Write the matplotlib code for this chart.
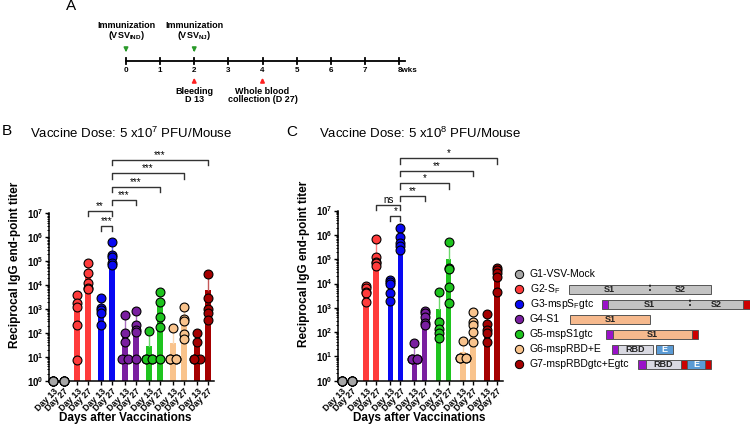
import numpy as np
import matplotlib
matplotlib.use('Agg')
import matplotlib.pyplot as plt
from matplotlib.patches import Rectangle
from matplotlib.ticker import FixedLocator, NullFormatter
from matplotlib.colors import to_rgb

plt.rcParams['font.family'] = ['Liberation Sans', 'DejaVu Sans']
plt.rcParams['mathtext.default'] = 'regular'

# ---- data ----
groupNames = ['G1-VSV-Mock', r'G2-S$_{F}$', r'G3-mspS$_{F}$gtc', 'G4-S1',
              'G5-mspS1gtc', 'G6-mspRBD+E', 'G7-mspRBDgtc+Egtc']
groupColors = ['#a6a6a6', '#ff3b3b', '#0808f2', '#7a1fa0', '#1ec41e', '#f9c38c', '#a50000']
dayLabels = ['Day 13', 'Day 27']

# panel B: 5x10^7 PFU/mouse (G1 d13, G1 d27, G2 d13, G2 d27, ...)
bBars = [1, 1, 1800, 25000, 800, 140000, 120, 155, 28, 2000, 38, 300, 40, 6500]
bErrTop = [1, 1, 3900, 87000, 2600, 600000, 520, 800, 110, 5000, 160, 1200, 95, 28000]
bPoints = [
    [1, 1, 1, 1, 1], [1, 1, 1, 1, 1],
    [3900, 1700, 1200, 210, 7.5], [87000, 33000, 12500, 7400, 7000],
    [2800, 1070, 910, 710, 210], [620000, 180000, 145000, 87000, 69000],
    [560, 100, 43, 7.8, 7.8], [850, 215, 130, 112, 7.8],
    [120, 7.8, 7.8, 7.8, 7.8], [5300, 2000, 450, 180, 7.8],
    [165, 7.8, 7.8, 7.8, 7.8], [1250, 370, 300, 90, 55],
    [95, 40, 7.8, 7.8, 7.8], [28000, 2800, 970, 700, 350],
]
bBrackets = [(3, 5, '**'), (4, 5, '***'), (5, 7, '***'), (5, 9, '***'), (5, 11, '***'), (5, 13, '***')]

# panel C: 5x10^8 PFU/mouse
cBars = [1, 1, 4500, 150000, 8000, 400000, 10, 300, 900, 100000, 15, 160, 160, 30000]
cErrTop = [1, 1, 8000, 650000, 14000, 1900000, 30, 700, 4300, 500000, 40, 600, 500, 40000]
cPoints = [
    [1, 1, 1, 1, 1], [1, 1, 1, 1, 1],
    [7900, 6300, 4600, 4000, 1800], [680000, 126000, 79000, 72000, 52000],
    [14000, 12000, 9500, 4000, 1950], [2000000, 850000, 450000, 360000, 250000],
    [35, 8, 8, 8, 8], [760, 590, 405, 245, 195],
    [4300, 270, 130, 90, 55], [500000, 42000, 40000, 7000, 1600],
    [44, 8.3, 8.3, 8.3, 8.3], [650, 270, 195, 105, 40],
    [550, 215, 122, 89, 40], [42000, 36000, 26000, 18000, 4600],
]
cBrackets = [(3, 5, 'ns'), (4, 5, '*'), (5, 7, '**'), (5, 9, '*'), (5, 11, '**'), (5, 13, '*')]

# timeline (weeks)
weeks = [0, 1, 2, 3, 4, 5, 6, 7, 8]
immunWeeks = [0, 2]
immunLabels = [r'(VSV$_{IND}$)', r'(VSV$_{NJ}$)']
bleedWeeks = [2, 4]
bleedLabels = [['Bleeding', 'D 13'], ['Whole blood', 'collection (D 27)']]

# constructs: (label, domain, length)
constructs = [
    [],
    [('S1', 'spike', 81), ('S2', 'spike', 61)],
    [('', 'msp', 6), ('S1', 'spike', 82), ('S2', 'spike', 53), ('', 'gtc', 7)],
    [('S1', 's1', 80)],
    [('', 'msp', 7), ('S1', 's1', 79), ('', 'gtc', 6)],
    [('', 'msp', 6), ('RBD', 'rbd', 35), ('', 'gap', 3), ('E', 'e', 17)],
    [('', 'msp', 8), ('RBD', 'rbd', 35), ('', 'gtc', 6), ('E', 'e', 18), ('', 'gtc', 6)],
]
constructStart = [0, 569, 602, 570, 606, 612, 638]
domainColors = {'spike': '#c3c3c3', 'msp': '#9a12c8', 'gtc': '#cc0000', 's1': '#f6b98d',
                'rbd': '#d9d9e2', 'e': '#5b9bd5'}


def tint(c, f):
    r = np.array(to_rgb(c))
    return tuple(r + (1 - r) * f)


def barPositions(spacing):
    pos = []
    for g in range(len(groupNames)):
        pos.append(g * spacing)
        pos.append(g * spacing + 1)
    return np.array(pos)


def plotPanel(ax, bars, errTop, points, brackets, spacing, levels):
    xs = barPositions(spacing)
    for i in range(len(bars)):
        col = groupColors[i // 2]
        if bars[i] > 1:
            ax.bar(xs[i], bars[i] - 1, bottom=1, width=0.55, color=col, zorder=1)
            ax.plot([xs[i], xs[i]], [bars[i], errTop[i]], color=tint(col, 0.35), lw=1, zorder=1)
            ax.plot([xs[i] - 0.15, xs[i] + 0.15], [errTop[i], errTop[i]], color=tint(col, 0.35), lw=1, zorder=1)
        # spread repeated values a little
        pts = points[i]
        offs = np.zeros(len(pts))
        for v in set(pts):
            idx = [k for k, p in enumerate(pts) if p == v]
            if v > 1 and len(idx) > 1:
                for n, k in enumerate(idx):
                    offs[k] = -0.28 if n % 2 == 0 else 0.28
        ax.plot(xs[i] + offs, pts, 'o', mfc=col, mec='black', mew=0.8, ms=6.4,
                clip_on=False, zorder=3)

    for (a, b, lab), lev in zip(brackets, levels):
        y = 10 ** lev
        yt = 10 ** (lev - 0.22)
        ax.plot([xs[a], xs[a], xs[b], xs[b]], [yt, y, y, yt], color='#333333', lw=1,
                clip_on=False)
        ax.text((xs[a] + xs[b]) / 2, 10 ** (lev + 0.2), lab, ha='center', va='center',
                fontsize=7, clip_on=False)

    ax.set_yscale('log')
    ax.set_xlim(xs[0] - 0.4, xs[-1] + 0.6)
    ax.spines['top'].set_visible(False)
    ax.spines['right'].set_visible(False)
    ax.spines['left'].set_bounds(1, 1e7)
    ax.spines['left'].set_linewidth(1.1)
    ax.spines['bottom'].set_linewidth(1.1)
    ax.yaxis.set_major_locator(FixedLocator([10 ** k for k in range(8)]))
    ax.set_yticklabels([r'10$^{%d}$' % k for k in range(8)], fontsize=7, fontweight='bold')
    minors = [m * 10 ** k for k in range(7) for m in range(2, 10)]
    ax.yaxis.set_minor_locator(FixedLocator(minors))
    ax.yaxis.set_minor_formatter(NullFormatter())
    ax.tick_params(axis='y', which='major', length=3, width=1, pad=1)
    ax.tick_params(axis='y', which='minor', length=1.5, width=0.7)
    ax.set_xticks(xs)
    ax.set_xticklabels(dayLabels * len(groupNames), rotation=45, ha='right',
                       rotation_mode='anchor', fontsize=6.3, fontweight='bold')
    ax.tick_params(axis='x', length=3, width=1, pad=1)
    ax.set_ylabel('Reciprocal IgG end-point titer', fontsize=8.5, fontweight='bold', labelpad=4)
    ax.set_facecolor('none')


fig = plt.figure(figsize=(7.5, 4.26), dpi=100)

# panel B
axB = fig.add_axes([49 / 750, (426 - 380.7) / 426, 165 / 750, 9.7 * 23.9 / 426])
axB.set_ylim(1, 10 ** 9.7)
plotPanel(axB, bBars, bErrTop, bPoints, bBrackets, 2.3, [7.11, 6.47, 7.56, 8.12, 8.68, 9.23])

# panel C
axC = fig.add_axes([338 / 750, (426 - 380.7) / 426, 165 / 750, 9.6 * 24.3 / 426])
axC.set_ylim(1, 10 ** 9.6)
plotPanel(axC, cBars, cErrTop, cPoints, cBrackets, 2.4, [7.23, 6.78, 7.6, 8.12, 8.64, 9.15])

# panel A timeline
axA = fig.add_axes([126 / 750, (426 - 106) / 426, 273 / 750, 96 / 426])
axA.set_xlim(0, 8)
axA.set_ylim(106, 10)
axA.axis('off')
axA.plot([0, 8.18], [61, 61], color='black', lw=1.3, clip_on=False)
for w in weeks:
    axA.plot([w, w], [58, 64], color='black', lw=1.3, clip_on=False)
    axA.text(w if w < 8 else w - 0.05, 70, str(w) if w < 8 else '8wks', ha='center' if w < 8 else 'left',
             va='center', fontsize=5.8, fontweight='bold')
for w, lab in zip(immunWeeks, immunLabels):
    axA.annotate('', xy=(w, 55), xytext=(w, 46),
                 arrowprops=dict(arrowstyle='-|>', color='#2a9a2a', lw=1.2, mutation_scale=6))
    axA.text(w, 25, 'Immunization', ha='center', va='center', fontsize=6.5, fontweight='bold')
    axA.text(w, 35, lab, ha='center', va='center', fontsize=6.5, fontweight='bold')
for w, lab in zip(bleedWeeks, bleedLabels):
    axA.annotate('', xy=(w, 75), xytext=(w, 85),
                 arrowprops=dict(arrowstyle='-|>', color='#ff2020', lw=1.2, mutation_scale=6))
    axA.text(w, 91, lab[0], ha='center', va='center', fontsize=6.5, fontweight='bold')
    axA.text(w, 100, lab[1], ha='center', va='center', fontsize=6.5, fontweight='bold')

# overlay for labels and legend
ov = fig.add_axes([0, 0, 1, 1])
ov.set_xlim(0, 750)
ov.set_ylim(426, 0)
ov.axis('off')
ov.text(66, 6, 'A', fontsize=11, va='center')
ov.text(2, 131, 'B', fontsize=11, va='center')
ov.text(286, 132, 'C', fontsize=11, va='center')
ov.text(30, 133, r'Vaccine Dose: 5 x10$^{7}$ PFU/Mouse', fontsize=9.5, va='center')
ov.text(319, 133, r'Vaccine Dose: 5 x10$^{8}$ PFU/Mouse', fontsize=9.5, va='center')
ov.text(125, 418, 'Days after Vaccinations', fontsize=8.5, fontweight='bold', ha='center', va='center')
ov.text(419, 418, 'Days after Vaccinations', fontsize=8.5, fontweight='bold', ha='center', va='center')

rowY = 274
for g in range(len(groupNames)):
    y = rowY + g * 15
    ov.plot(519, y, 'o', mfc=groupColors[g], mec='black', mew=0.7, ms=6)
    ov.text(530, y, groupNames[g], fontsize=7.5, va='center')
    x = constructStart[g]
    prev = None
    for lab, dom, ln in constructs[g]:
        if dom != 'gap':
            ov.add_patch(Rectangle((x, y - 4.5), ln, 9, facecolor=domainColors[dom],
                                   edgecolor='#555555', lw=0.7))
            if prev == 'spike' and dom == 'spike':
                ov.plot([x, x], [y - 4, y + 4], color=domainColors['spike'], lw=1.5)
                ov.plot([x, x], [y - 4, y + 4], color='black', lw=1.2, ls=(0, (1, 1.5)))
            if lab:
                ov.text(x + ln / 2, y + 0.5, lab, ha='center', va='center', fontsize=6.5,
                        fontweight='bold', color='white' if dom == 'e' else '#222222')
        x += ln
        prev = dom

fig.savefig('out.png', dpi=100)
